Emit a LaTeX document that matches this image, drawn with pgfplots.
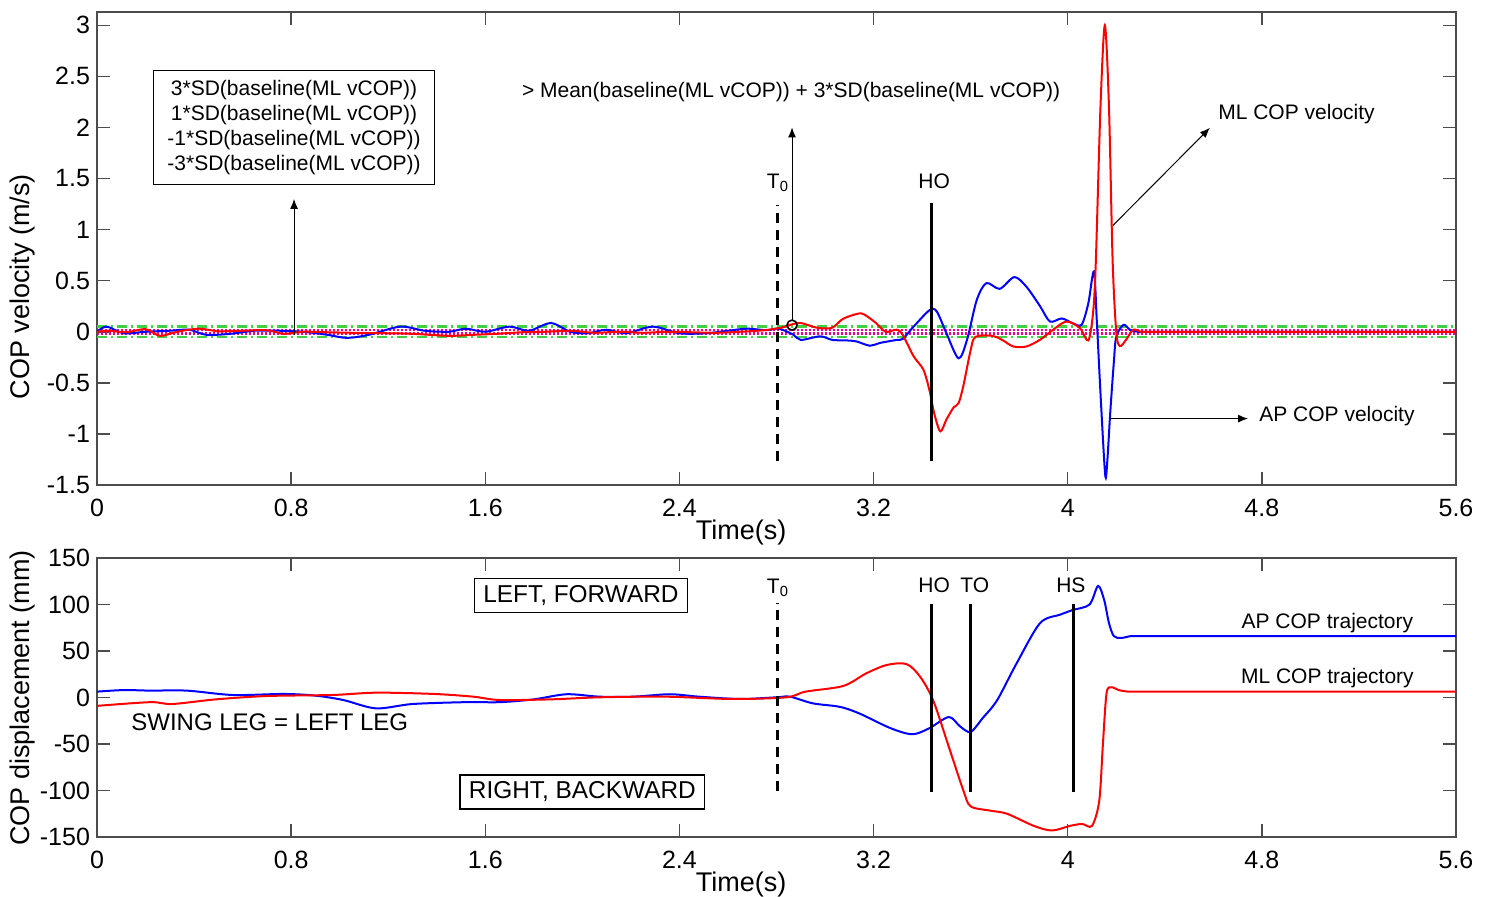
\documentclass[border=0pt]{standalone}
\usepackage{fontspec}
\setmainfont{Liberation Sans}
\usepackage{pgfplots}
\pgfplotsset{compat=1.18}
\usetikzlibrary{arrows.meta}

\definecolor{thrgreen}{rgb}{0.25,0.82,0.25}

\pgfplotsset{
  copax/.style={
    scale only axis, width=679.5pt, anchor=south west,
    xmin=0, xmax=5.6,
    xtick={0,0.8,1.6,2.4,3.2,4,4.8,5.6},
    tick align=inside, major tick length=6.5pt,
    axis line style={black!70, line width=0.75pt},
    every tick/.style={black!70, line width=0.75pt},
    tick label style={font=\fontsize{12.5}{14}\selectfont},
    xticklabel style={yshift=-3.5pt},
    /pgf/number format/assume math mode=true,
    label style={font=\fontsize{13.5}{16}\selectfont},
    xlabel={Time(s)},
  },
  evt/.style={black, line width=1.5pt},
  evtdash/.style={black, line width=1.5pt, dash pattern=on 5pt off 3.5pt},
}
\tikzset{
  note/.style={font=\fontsize{10.5}{12.5}\selectfont},
  arr/.style={-{Latex[length=5pt,width=4pt]}, line width=0.5pt},
}

\begin{document}
\begin{tikzpicture}
\useasboundingbox (-48.5pt,-206pt) rectangle (697pt,242.5pt);

% top panel: COP velocity
\begin{axis}[copax, at={(0,0)}, height=236.5pt,
  ymin=-1.5, ymax=3.13, ytick={-1.5,-1,-0.5,0,0.5,1,1.5,2,2.5,3},
  ylabel={COP velocity (m/s)},
  xlabel style={at={(axis description cs:0.474,-0.1015)}, anchor=center},
  ylabel style={at={(axis description cs:-0.0545,0.419)}, anchor=center},
]
% thresholds
\addplot[thrgreen, line width=1.1pt, dash pattern=on 5pt off 2pt on 1pt off 2pt] coordinates {(0,0.052) (5.6,0.052)};
\addplot[thrgreen, line width=1.1pt, dash pattern=on 5pt off 2pt on 1pt off 2pt] coordinates {(0,-0.052) (5.6,-0.052)};
\addplot[magenta, line width=1.4pt, dash pattern=on 1pt off 1pt] coordinates {(0,0.018) (5.6,0.018)};
\addplot[magenta, line width=1.4pt, dash pattern=on 1pt off 1pt] coordinates {(0,-0.018) (5.6,-0.018)};

% AP COP velocity
\addplot[blue, line width=1pt, smooth] coordinates {
(0,0.0) (0.04,0.05) (0.11,-0.015) (0.2,0.0) (0.3,0.01) (0.38,0.02) (0.45,-0.03)
(0.55,-0.02) (0.65,0.01) (0.75,0.01) (0.85,0.0) (0.95,-0.03) (1.03,-0.06)
(1.12,-0.03) (1.25,0.05) (1.35,0.01) (1.45,0.0) (1.52,0.03) (1.6,0.0) (1.7,0.05)
(1.78,0.01) (1.87,0.085) (1.95,0.0) (2.02,-0.015) (2.1,0.02) (2.18,-0.015)
(2.29,0.05) (2.4,-0.015) (2.51,-0.015) (2.6,0.01) (2.68,0.03) (2.76,0.015)
(2.81,0.03) (2.87,-0.03) (2.9,-0.08) (2.98,-0.045) (3.03,-0.08) (3.09,-0.085)
(3.13,-0.095) (3.185,-0.137) (3.225,-0.11) (3.295,-0.08) (3.32,-0.07)
(3.365,0.05) (3.43,0.21) (3.46,0.20) (3.50,-0.013) (3.55,-0.26) (3.585,-0.08)
(3.625,0.31) (3.665,0.476) (3.72,0.42) (3.78,0.535) (3.83,0.44) (3.886,0.25)
(3.927,0.10) (3.975,0.13) (4.02,0.085) (4.057,0.068) (4.085,0.28) (4.108,0.59)
(4.12,0.1) (4.135,-0.6) (4.15,-1.25) (4.157,-1.43) (4.165,-1.2) (4.175,-0.8)
(4.19,-0.3) (4.2,-0.05) (4.23,0.068) (4.256,0.02) (4.29,0.0) (4.33,0.0)
(4.4,0.0) (4.5,0.0) (4.65,0.0) (4.85,0.0) (5.15,0.0) (5.6,0.0)};

% ML COP velocity
\addplot[red, line width=1pt, smooth] coordinates {
(0,0.0) (0.05,0.01) (0.12,-0.005) (0.2,0.025) (0.26,-0.04) (0.33,0.0) (0.42,0.03)
(0.5,0.005) (0.6,0.01) (0.7,0.015) (0.77,-0.02) (0.85,0.0) (0.95,-0.005)
(1.05,-0.01) (1.2,-0.015) (1.3,-0.02) (1.45,-0.04) (1.55,-0.03) (1.65,-0.02)
(1.75,-0.005) (1.85,0.0) (1.95,0.01) (2.05,-0.01) (2.15,0.0) (2.25,-0.01)
(2.35,0.0) (2.45,-0.005) (2.55,-0.01) (2.65,0.0) (2.75,0.015) (2.82,0.04)
(2.86,0.07) (2.9,0.085) (2.95,0.05) (2.98,0.035) (3.03,0.04) (3.07,0.12)
(3.11,0.16) (3.15,0.18) (3.18,0.14) (3.21,0.085) (3.25,0.0) (3.295,0.02)
(3.32,-0.03) (3.365,-0.24) (3.405,-0.37) (3.43,-0.57) (3.45,-0.80) (3.475,-0.975)
(3.50,-0.86) (3.53,-0.74) (3.55,-0.70) (3.57,-0.53) (3.60,-0.18) (3.62,-0.05)
(3.69,-0.04) (3.73,-0.08) (3.776,-0.144) (3.83,-0.144) (3.886,-0.078)
(3.94,0.02) (3.995,0.10) (4.05,0.036) (4.085,-0.085) (4.105,0.2) (4.116,0.7)
(4.135,2.2) (4.153,3.0) (4.17,2.2) (4.185,0.7) (4.2,0.0) (4.215,-0.14)
(4.24,-0.08) (4.27,0.02) (4.3,0.0) (4.34,0.0) (4.4,0.0) (4.5,0.0) (4.65,0.0)
(4.85,0.0) (5.15,0.0) (5.6,0.0)};

% onset marker
\addplot[black, only marks, mark=o, mark size=2.5pt, line width=0.8pt] coordinates {(2.864,0.065)};

% events
\addplot[evtdash] coordinates {(2.806,-1.27) (2.806,1.24)};
\addplot[evt] coordinates {(3.44,-1.27) (3.44,1.26)};
\node[note] at (axis cs:2.806,1.46) {T\textsubscript{0}};
\node[note] at (axis cs:3.45,1.47) {HO};

% annotations
\node[note, draw=black, line width=0.6pt, align=center, inner xsep=7pt, inner ysep=5pt]
  at (axis cs:0.812,2.0)
  {3*SD(baseline(ML vCOP))\\1*SD(baseline(ML vCOP))\\-1*SD(baseline(ML vCOP))\\-3*SD(baseline(ML vCOP))};
\draw[arr] (axis cs:0.812,-0.03) -- (axis cs:0.812,1.30);
\draw[arr] (axis cs:2.864,0.11) -- (axis cs:2.864,2.0);
\node[note] at (axis cs:2.86,2.35) {> Mean(baseline(ML vCOP)) + 3*SD(baseline(ML vCOP))};
\draw[arr] (axis cs:4.186,1.04) -- (axis cs:4.586,1.996);
\node[note, anchor=west, inner sep=0pt] at (axis cs:4.619,2.13) {ML COP velocity};
\draw[arr] (axis cs:4.174,-0.85) -- (axis cs:4.743,-0.85);
\node[note, anchor=west, inner sep=0pt] at (axis cs:4.788,-0.83) {AP COP velocity};
\end{axis}

% bottom panel: COP displacement
\begin{axis}[copax, at={(0,-176pt)}, height=139.5pt,
  ymin=-150, ymax=150, ytick={-150,-100,-50,0,50,100,150},
  ylabel={COP displacement (mm)},
  xlabel style={at={(axis description cs:0.474,-0.172)}, anchor=center},
  ylabel style={at={(axis description cs:-0.0545,0.498)}, anchor=center},
]
% AP COP trajectory
\addplot[blue, line width=1pt, smooth] coordinates {
(0,6.3) (0.11,8) (0.22,7.4) (0.37,7.4) (0.56,2.7) (0.77,3.8) (0.9,2) (1.015,-2.7)
(1.15,-11.7) (1.30,-7) (1.52,-5) (1.66,-5) (1.80,-2) (1.935,3.5) (2.07,0.9)
(2.21,0.9) (2.36,3.5) (2.48,0.9) (2.65,-1.6) (2.80,0.2) (2.855,0.9) (2.95,-6.3)
(3.06,-10) (3.14,-17) (3.27,-33) (3.36,-39.5) (3.43,-33) (3.51,-21) (3.556,-31)
(3.60,-37) (3.65,-22) (3.69,-10) (3.72,2) (3.79,37) (3.886,80) (3.968,89)
(4.02,94) (4.09,100) (4.125,120) (4.15,105) (4.17,80) (4.19,66) (4.22,64)
(4.26,66) (4.3,66) (4.36,66) (4.45,66) (4.6,66) (4.8,66) (5.1,66) (5.6,66)};

% ML COP trajectory
\addplot[red, line width=1pt, smooth] coordinates {
(0,-9) (0.22,-5) (0.31,-7) (0.49,-2) (0.70,1.6) (0.97,2.7) (1.15,5.2) (1.39,3.8)
(1.55,0.9) (1.66,-2.7) (1.87,-2) (2.07,0.2) (2.34,0.9) (2.62,-1.6) (2.84,0.2)
(2.92,6.3) (3.075,12.4) (3.17,26) (3.255,35) (3.335,36) (3.39,23) (3.445,-2.7)
(3.51,-53) (3.57,-100) (3.60,-117) (3.68,-121.6) (3.75,-125) (3.86,-138)
(3.935,-143) (4.01,-138) (4.06,-136) (4.10,-138) (4.13,-111) (4.145,-50)
(4.16,4.5) (4.18,11) (4.21,8) (4.25,6.3) (4.29,6.3) (4.35,6.3) (4.44,6.3)
(4.6,6.3) (4.8,6.3) (5.1,6.3) (5.6,6.3)};

% events
\addplot[evtdash] coordinates {(2.806,-100) (2.806,102)};
\addplot[evt] coordinates {(3.44,-102) (3.44,100)};
\addplot[evt] coordinates {(3.601,-102) (3.601,100)};
\addplot[evt] coordinates {(4.022,-102) (4.022,100)};
\node[note] at (axis cs:2.806,118) {T\textsubscript{0}};
\node[note] at (axis cs:3.45,121) {HO};
\node[note] at (axis cs:3.617,121) {TO};
\node[note] at (axis cs:4.013,121) {HS};

\node[draw=black, line width=0.6pt, font=\fontsize{12.2}{14}\selectfont, inner xsep=4.5pt, inner ysep=3.5pt]
  at (axis cs:1.994,109.7) {LEFT, FORWARD};
\node[draw=black, line width=0.6pt, font=\fontsize{12.2}{14}\selectfont, inner xsep=4.5pt, inner ysep=3.5pt]
  at (axis cs:2.0,-101.6) {RIGHT, BACKWARD};
\node[font=\fontsize{12}{14}\selectfont, anchor=west, inner sep=0pt] at (axis cs:0.14,-26.5) {SWING LEG = LEFT LEG};
\node[note] at (axis cs:5.07,80.5) {AP COP trajectory};
\node[note] at (axis cs:5.07,21) {ML COP trajectory};
\end{axis}
\end{tikzpicture}
\end{document}
